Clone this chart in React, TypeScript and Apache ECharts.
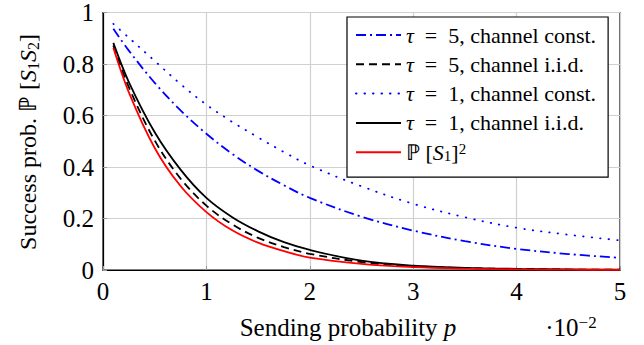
import React, { useEffect, useRef } from "react";
import * as echarts from "echarts";

const P_VALUES = [0.1, 0.25, 0.5, 0.75, 1, 1.25, 1.5, 1.75, 2, 2.5, 3, 3.5, 4, 4.5, 5];
const TAU5_CONST = [0.937, 0.852, 0.727, 0.62, 0.529, 0.451, 0.385, 0.329, 0.28, 0.207, 0.153, 0.112, 0.082, 0.062, 0.047];
const TAU5_IID = [0.872, 0.71, 0.503, 0.355, 0.25, 0.177, 0.125, 0.089, 0.063, 0.031, 0.015, 0.0075, 0.0037, 0.0018, 0.0009];
const TAU1_CONST = [0.956, 0.902, 0.812, 0.722, 0.642, 0.575, 0.515, 0.458, 0.406, 0.325, 0.257, 0.205, 0.164, 0.137, 0.115];
const TAU1_IID = [0.882, 0.73, 0.535, 0.39, 0.28, 0.205, 0.15, 0.108, 0.078, 0.036, 0.017, 0.0085, 0.0045, 0.0023, 0.0012];
const P_S1_SQ = [0.863, 0.69, 0.474, 0.326, 0.225, 0.154, 0.106, 0.073, 0.048, 0.024, 0.011, 0.0052, 0.0025, 0.0012, 0.0006];

const X_TICKS = ["0", "1", "2", "3", "4", "5"];
const Y_TICKS = ["0", "0.2", "0.4", "0.6", "0.8", "1"];

const LEGEND_LABELS: Record<string, string> = {
  t5c: "{i|τ}{r|\u2002=\u20025, channel const.}",
  t5i: "{i|τ}{r|\u2002=\u20025, channel i.i.d.}",
  t1c: "{i|τ}{r|\u2002=\u20021, channel const.}",
  t1i: "{i|τ}{r|\u2002=\u20021, channel i.i.d.}",
  ps: "{r|ℙ [}{i|S}{sub|1}{r|]}{sup|2}",
};

const SERIF = "Liberation Serif";

export default function App() {
  const ref = useRef<HTMLDivElement>(null);
  useEffect(() => {
    if (!ref.current) return;
    const chart = echarts.init(ref.current, null, { renderer: "svg" });
    const mk = (ys: number[]) => P_VALUES.map((p, i) => [p, ys[i]]);
    const lineSeries = (name: string, ys: number[], color: string, type: any, cap = "butt") => ({
      name,
      type: "line",
      data: mk(ys),
      smooth: 0.35,
      symbol: "none",
      lineStyle: { color, width: 1.8, type, cap },
      itemStyle: { color },
    });
    const legendRich = {
      r: { fontFamily: SERIF, fontSize: 22, color: "#000" },
      i: { fontStyle: "italic", fontFamily: SERIF, fontSize: 22, color: "#000" },
      sub: { fontFamily: SERIF, fontSize: 15, color: "#000", verticalAlign: "bottom", padding: [8, 0, 0, 0] },
      sup: { fontFamily: SERIF, fontSize: 15, color: "#000", verticalAlign: "top", padding: [0, 0, 8, 0] },
    };
    chart.setOption({
      animation: false,
      backgroundColor: "#fff",
      grid: {
        left: 103,
        right: 24,
        top: 12,
        bottom: 75,
        show: true,
        borderColor: "#000",
        borderWidth: 1.2,
        backgroundColor: "transparent",
        containLabel: false,
      },
      xAxis: {
        type: "value",
        min: 0,
        max: 5,
        interval: 1,
        axisLine: { show: true, lineStyle: { color: "#000", width: 1.2 } },
        axisTick: { show: true, inside: true, length: 4, lineStyle: { color: "#999" } },
        splitLine: { show: true, lineStyle: { color: "#d0d0d0", width: 1.2 } },
        axisLabel: {
          margin: 9,
          color: "#000",
          fontFamily: SERIF,
          fontSize: 25,
          formatter: (v: number) => X_TICKS[Math.round(v)] ?? String(v),
        },
      },
      yAxis: {
        type: "value",
        min: 0,
        max: 1,
        interval: 0.2,
        axisLine: { show: true, lineStyle: { color: "#000", width: 1.2 } },
        axisTick: { show: true, inside: true, length: 4, lineStyle: { color: "#999" } },
        splitLine: { show: true, lineStyle: { color: "#d0d0d0", width: 1.2 } },
        axisLabel: {
          margin: 9,
          color: "#000",
          fontFamily: SERIF,
          fontSize: 25,
          formatter: (v: number) => Y_TICKS[Math.round(v * 5)] ?? String(v),
        },
      },
      legend: {
        orient: "vertical",
        left: 347,
        top: 17,
        padding: [7, 12, 14, 8],
        itemGap: 7.3,
        itemWidth: 45,
        itemHeight: 14,
        backgroundColor: "#fff",
        borderColor: "#000",
        borderWidth: 1.2,
        borderRadius: 0,
        itemStyle: { opacity: 0 },
        data: ["t5c", "t5i", "t1c", "t1i", "ps"],
        formatter: (name: string) => LEGEND_LABELS[name] ?? name,
        textStyle: {
          fontFamily: SERIF,
          fontSize: 22,
          color: "#000",
          lineHeight: 22,
          rich: legendRich,
        },
      },
      series: [
        lineSeries("t5c", TAU5_CONST, "#0000ff", [10, 4, 2, 4]),
        lineSeries("t5i", TAU5_IID, "#000", [8, 5]),
        lineSeries("t1c", TAU1_CONST, "#0000ff", [0.5, 8], "round"),
        lineSeries("t1i", TAU1_IID, "#000", "solid"),
        lineSeries("ps", P_S1_SQ, "#ff0000", "solid"),
      ],
      graphic: [
        {
          type: "text",
          x: 348,
          y: 327,
          style: {
            text: "{r|Sending probability }{i|p}",
            fill: "#000",
            textAlign: "center",
            textVerticalAlign: "middle",
            rich: {
              r: { fontFamily: SERIF, fontSize: 25, fill: "#000" },
              i: { fontStyle: "italic", fontFamily: SERIF, fontSize: 25, fill: "#000" },
            },
          },
        },
        {
          type: "text",
          x: 571,
          y: 327,
          style: {
            text: "{r|·10}{sup|−2}",
            fill: "#000",
            textAlign: "center",
            textVerticalAlign: "middle",
            rich: {
              r: { fontFamily: SERIF, fontSize: 25, fill: "#000" },
              sup: { fontFamily: SERIF, fontSize: 17, fill: "#000", verticalAlign: "top", padding: [0, 0, 10, 0] },
            },
          },
        },
        {
          type: "text",
          x: 28,
          y: 142,
          rotation: Math.PI / 2,
          style: {
            text: "{r|Success prob. ℙ [}{i|S}{sub|1}{i|S}{sub|2}{r|]}",
            fill: "#000",
            textAlign: "center",
            textVerticalAlign: "middle",
            rich: {
              r: { fontFamily: SERIF, fontSize: 24, fill: "#000" },
              i: { fontStyle: "italic", fontFamily: SERIF, fontSize: 24, fill: "#000" },
              sub: { fontFamily: SERIF, fontSize: 16, fill: "#000", verticalAlign: "bottom", padding: [10, 0, 0, 0] },
            },
          },
        },
      ],
    });
    return () => chart.dispose();
  }, []);
  return (
    <div
      ref={ref}
      style={{ position: "fixed", left: 0, top: 0, width: 644, height: 345, background: "#fff" }}
    />
  );
}
